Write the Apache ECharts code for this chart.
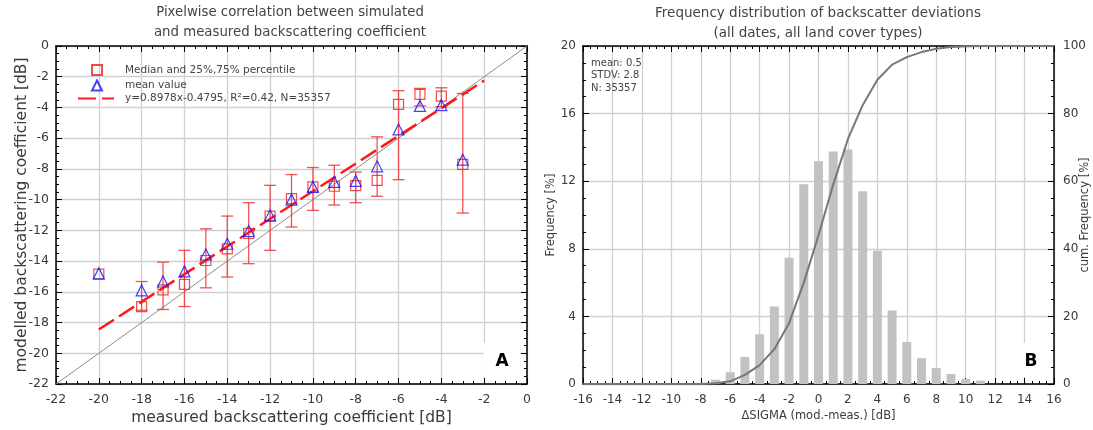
<!DOCTYPE html>
<html><head><meta charset="utf-8">
<script src="https://cdn.jsdelivr.net/npm/echarts@6/dist/echarts.min.js"></script>
<style>html,body{margin:0;padding:0;background:#fff}#c{width:1093px;height:430px}</style>
</head><body><div id="c"></div>
<script>
// ---- Chart A data ----
const measuredX = [-20, -18, -17, -16, -15, -14, -13, -12, -11, -10, -9, -8, -7, -6, -5, -4, -3];
const medianY   = [-14.85, -16.96, -15.87, -15.52, -13.96, -13.2, -12.2, -11.07, -9.93, -9.17, -9.13, -9.09, -8.74, -3.8, -3.15, -3.26, -7.7];
const meanY     = [-14.8, -15.91, -15.33, -14.67, -13.57, -12.87, -12.04, -11.02, -10.0, -9.17, -8.85, -8.78, -7.83, -5.43, -3.9, -3.85, -7.4];
const q25Y      = [null, -17.2, -17.15, -16.96, -15.74, -15.04, -14.17, -13.3, -11.78, -10.7, -10.35, -10.2, -9.78, -8.7, -3.9, -3.95, -10.87];
const q75Y      = [null, -15.33, -14.07, -13.3, -11.9, -11.07, -10.2, -9.07, -8.37, -7.91, -7.76, -8.2, -5.91, -2.91, -2.76, -2.72, -3.09];
const fitLine   = [[-20, -18.45], [-2, -2.25]];
const oneToOne  = [[-22, -22], [0, 0]];
const legendNames = ['Median and 25%,75% percentile', 'mean value', 'y=0.8978x-0.4795, R\u00b2=0.42, N=35357'];

// ---- Chart B data ----
const devX  = [-7, -6, -5, -4, -3, -2, -1, 0, 1, 2, 3, 4, 5, 6, 7, 8, 9, 10, 11];
const freq  = [0.25, 0.7, 1.6, 2.94, 4.59, 7.47, 11.82, 13.18, 13.76, 13.88, 11.41, 7.88, 4.35, 2.49, 1.53, 0.94, 0.59, 0.31, 0.2];
const cumX  = [-16, -8, -7, -6, -5, -4, -3, -2, -1, 0, 1, 2, 3, 4, 5, 6, 7, 8, 9, 10, 11, 16];
const cumY  = [0, 0, 0.2, 0.8, 2.7, 5.6, 10.3, 18, 30, 44, 59, 72.5, 82.5, 90, 94.5, 96.7, 98.2, 99.2, 99.7, 99.9, 100, 100];

const FONT = 'DejaVu Sans';
const TXT = '#3a3a3a';

function axis(o) {
  const a = {
    type: 'value',
    nameMoveOverlap: false,
    axisLine: { show: true, onZero: false, lineStyle: { color: '#000', width: 1.5 } },
    axisTick: { show: true, inside: true, length: 6, lineStyle: { color: '#000', width: 1 } },
    minorTick: { show: true, splitNumber: 4, length: 3, lineStyle: { color: '#000', width: 1 } },
    splitLine: { show: false },
    axisLabel: { show: false },
    nameTextStyle: { fontFamily: FONT, color: TXT }
  };
  return Object.assign(a, o);
}
const grid = { show: true, lineStyle: { color: '#d0d0d0', width: 1.3 } };

const errData = [];
measuredX.forEach((x, i) => { if (q25Y[i] !== null) errData.push([x, q25Y[i], q75Y[i]]); });

const chart = echarts.init(document.getElementById('c'));
chart.setOption({
  animation: false,
  grid: [
    { left: 56, right: 566, top: 46, bottom: 46, containLabel: false, outerBoundsMode: 'none' },
    { left: 583, right: 39, top: 46, bottom: 46, containLabel: false, outerBoundsMode: 'none' }
  ],
  xAxis: [
    axis({ gridIndex: 0, min: -22, max: 0, interval: 2, position: 'bottom', splitLine: grid,
      axisLabel: { show: true, fontSize: 12.5, color: TXT, margin: 9, fontFamily: FONT },
      name: 'measured backscattering coefficient [dB]', nameLocation: 'middle', nameGap: 26,
      nameTextStyle: { fontSize: 15.5, color: TXT, fontFamily: FONT } }),
    axis({ gridIndex: 0, min: -22, max: 0, interval: 2, position: 'top' }),
    axis({ gridIndex: 1, min: -16, max: 16, interval: 2, position: 'bottom', splitLine: grid,
      axisLabel: { show: true, fontSize: 12, color: TXT, margin: 10, fontFamily: FONT },
      name: '\u0394SIGMA (mod.-meas.) [dB]', nameLocation: 'middle', nameGap: 26,
      nameTextStyle: { fontSize: 11.5, color: TXT, fontFamily: FONT } }),
    axis({ gridIndex: 1, min: -16, max: 16, interval: 2, position: 'top' })
  ],
  yAxis: [
    axis({ gridIndex: 0, min: -22, max: 0, interval: 2, position: 'left', splitLine: grid,
      axisLabel: { show: true, fontSize: 12.5, color: TXT, margin: 7, fontFamily: FONT },
      name: 'modelled backscattering coefficient [dB]', nameLocation: 'middle', nameGap: 26,
      nameTextStyle: { fontSize: 15.5, color: TXT, fontFamily: FONT } }),
    axis({ gridIndex: 0, min: -22, max: 0, interval: 2, position: 'right' }),
    axis({ gridIndex: 1, min: 0, max: 20, interval: 4, position: 'left', splitLine: grid,
      axisLabel: { show: true, fontSize: 12, color: TXT, margin: 7, fontFamily: FONT },
      name: 'Frequency [%]', nameLocation: 'middle', nameGap: 26,
      nameTextStyle: { fontSize: 11.5, color: TXT, fontFamily: FONT } }),
    axis({ gridIndex: 1, min: 0, max: 100, interval: 20, position: 'right',
      axisLabel: { show: true, fontSize: 12, color: TXT, margin: 9, fontFamily: FONT },
      name: 'cum. Frequency [%]', nameLocation: 'middle', nameGap: 25, nameRotate: 90,
      nameTextStyle: { fontSize: 11.5, color: TXT, fontFamily: FONT } })
  ],
  legend: [
    { orient: 'vertical', left: 91, top: 64, padding: 0, itemWidth: 10, itemHeight: 10, itemGap: 3.5,
      selectedMode: false, data: [legendNames[0], legendNames[1]],
      textStyle: { fontSize: 10.5, color: '#444', fontFamily: FONT, lineHeight: 10, padding: [0, 0, 0, 18] } },
    { orient: 'vertical', left: 77, top: 93, padding: 0, itemWidth: 36, itemHeight: 10,
      selectedMode: false,
      data: [{ name: legendNames[2], itemStyle: { color: 'rgba(0,0,0,0)', borderWidth: 0, opacity: 0 } }],
      textStyle: { fontSize: 10.5, color: '#444', fontFamily: FONT, lineHeight: 10, padding: [0, 0, 0, 6] } }
  ],
  series: [
    { type: 'line', xAxisIndex: 0, yAxisIndex: 0, data: oneToOne, symbol: 'none', silent: true,
      lineStyle: { color: '#8c8c8c', width: 1 }, z: 1 },
    { type: 'line', name: legendNames[2], xAxisIndex: 0, yAxisIndex: 0, data: fitLine, symbol: 'none',
      lineStyle: { color: '#ff1a1a', width: 2.5, type: [18, 6] }, itemStyle: { color: '#ff1a1a' }, z: 3 },
    { type: 'custom', xAxisIndex: 0, yAxisIndex: 0, data: errData, encode: { x: 0, y: [1, 2] }, z: 2,
      renderItem(params, api) {
        const x = api.value(0), lo = api.value(1), hi = api.value(2);
        const p1 = api.coord([x, lo]), p2 = api.coord([x, hi]);
        const hw = 6;
        const style = { stroke: 'rgba(240,40,40,0.8)', lineWidth: 1.3 };
        return { type: 'group', children: [
          { type: 'line', shape: { x1: p1[0], y1: p1[1], x2: p2[0], y2: p2[1] }, style },
          { type: 'line', shape: { x1: p1[0] - hw, y1: p1[1], x2: p1[0] + hw, y2: p1[1] }, style },
          { type: 'line', shape: { x1: p2[0] - hw, y1: p2[1], x2: p2[0] + hw, y2: p2[1] }, style }
        ] };
      } },
    { type: 'scatter', name: legendNames[0], xAxisIndex: 0, yAxisIndex: 0,
      data: measuredX.map((x, i) => [x, medianY[i]]), symbol: 'rect', symbolSize: 10,
      itemStyle: { color: 'rgba(255,255,255,0)', borderColor: '#e82020', borderWidth: 1.2 }, z: 4 },
    { type: 'scatter', name: legendNames[1], xAxisIndex: 0, yAxisIndex: 0,
      data: measuredX.map((x, i) => [x, meanY[i]]), symbol: 'triangle', symbolSize: 11,
      itemStyle: { color: 'rgba(255,255,255,0)', borderColor: '#1414ff', borderWidth: 1.2 }, z: 5 },
    { type: 'bar', xAxisIndex: 2, yAxisIndex: 2, data: devX.map((x, i) => [x, freq[i]]), barWidth: 9,
      itemStyle: { color: '#c2c2c2' }, z: 2 },
    { type: 'line', xAxisIndex: 2, yAxisIndex: 3, data: cumX.map((x, i) => [x, cumY[i]]), symbol: 'none',
      lineStyle: { color: '#777', width: 2 }, z: 3 }
  ],
  graphic: [
    { type: 'text', x: 290, y: 3, style: { text: 'Pixelwise correlation between simulated\nand measured backscattering coefficient',
      x: 0, y: 0, align: 'center', verticalAlign: 'top', fontSize: 13.3, lineHeight: 20, fill: '#444', fontFamily: FONT } },
    { type: 'text', x: 818, y: 3, style: { text: 'Frequency distribution of backscatter deviations\n(all dates, all land cover types)',
      x: 0, y: 0, align: 'center', verticalAlign: 'top', fontSize: 13.5, lineHeight: 20, fill: '#444', fontFamily: FONT } },
    { type: 'rect', shape: { x: 483.5, y: 343, width: 37, height: 34 }, style: { fill: '#fff' }, z: 10 },
    { type: 'text', x: 502, y: 362, z: 11, style: { text: 'A', align: 'center', verticalAlign: 'middle', fontSize: 17, fontWeight: 'bold', fill: '#000', fontFamily: FONT } },
    { type: 'rect', shape: { x: 1019, y: 343, width: 28, height: 34 }, style: { fill: '#fff' }, z: 10 },
    { type: 'text', x: 1031, y: 362, z: 11, style: { text: 'B', align: 'center', verticalAlign: 'middle', fontSize: 17, fontWeight: 'bold', fill: '#000', fontFamily: FONT } },
    { type: 'text', x: 591, y: 57, z: 11, style: { text: 'mean: 0.5\nSTDV: 2.8\nN: 35357', fontSize: 10, lineHeight: 12.5, fill: '#444', fontFamily: FONT } }
  ]
});
</script></body></html>
